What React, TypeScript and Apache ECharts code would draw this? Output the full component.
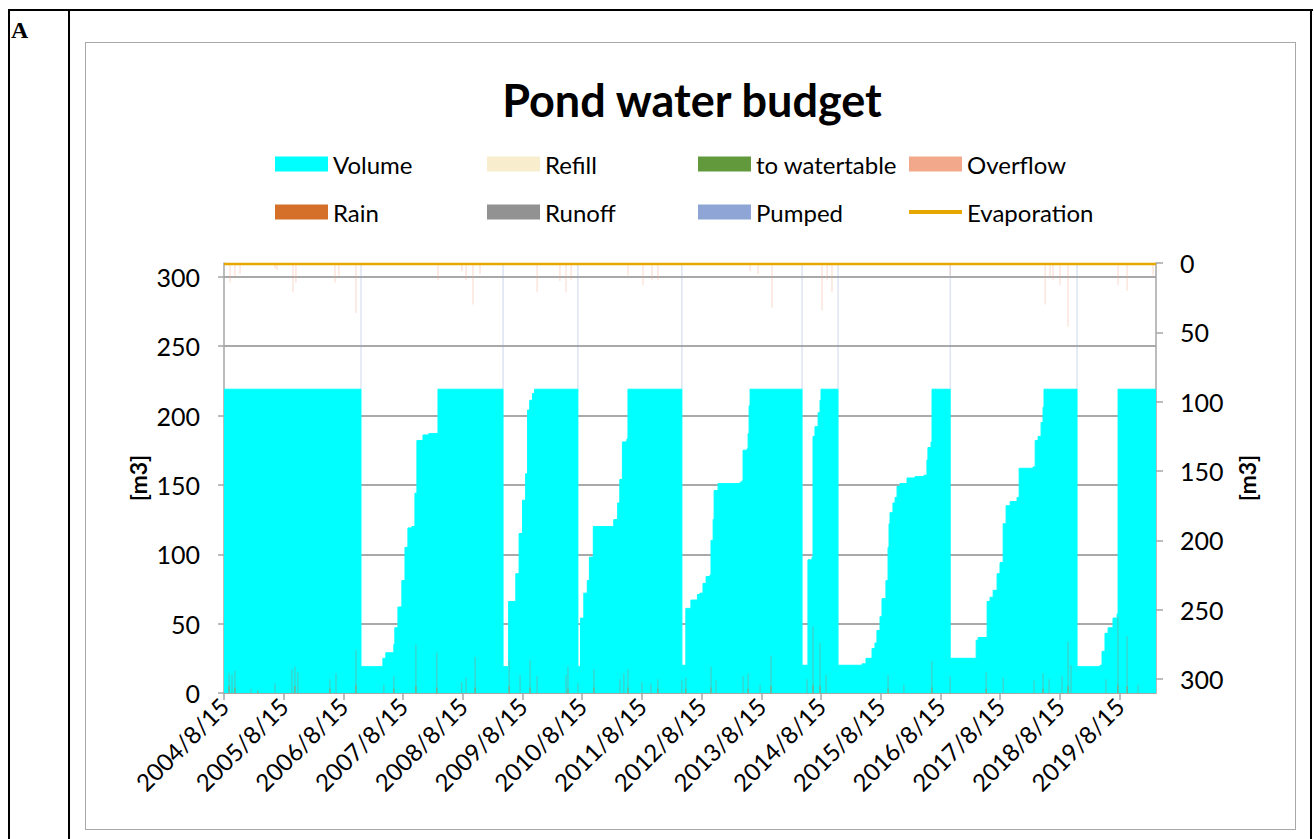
import React, { useEffect, useRef } from 'react';
import * as echarts from 'echarts';

// Pond volume [m3] (step changes)
const VOLUME: [string, number][] = [
  ['2004-08-15', 219], ['2006-12-01', 19], ['2007-04-14', 25], ['2007-05-02', 29], ['2007-06-20', 35],
  ['2007-06-26', 47], ['2007-07-15', 62], ['2007-08-08', 81], ['2007-08-27', 105], ['2007-09-14', 119],
  ['2007-10-08', 120], ['2007-10-27', 144], ['2007-11-08', 182], ['2007-12-15', 186], ['2008-01-20', 187],
  ['2008-03-16', 219], ['2009-04-18', 19], ['2009-05-22', 66], ['2009-07-05', 86], ['2009-07-25', 115],
  ['2009-08-15', 139], ['2009-09-03', 158], ['2009-09-15', 204], ['2009-09-28', 211], ['2009-10-15', 216],
  ['2009-10-28', 219], ['2010-07-20', 19], ['2010-08-05', 54], ['2010-08-25', 72], ['2010-09-15', 81],
  ['2010-09-28', 98], ['2010-10-22', 120], ['2011-02-24', 125], ['2011-03-20', 137], ['2011-04-02', 154],
  ['2011-04-18', 181], ['2011-05-15', 183], ['2011-05-22', 219], ['2012-04-16', 20], ['2012-05-10', 61],
  ['2012-06-10', 67], ['2012-07-20', 71], ['2012-08-04', 72], ['2012-08-23', 79], ['2012-09-11', 84],
  ['2012-10-05', 85], ['2012-10-11', 110], ['2012-10-24', 125], ['2012-10-30', 146], ['2012-11-23', 151],
  ['2013-04-07', 152], ['2013-04-19', 153], ['2013-04-25', 175], ['2013-05-19', 176], ['2013-05-26', 187],
  ['2013-06-01', 207], ['2013-06-07', 219], ['2014-04-21', 20], ['2014-05-27', 96], ['2014-06-21', 98],
  ['2014-06-27', 185], ['2014-07-09', 192], ['2014-07-28', 202], ['2014-08-09', 211], ['2014-08-15', 219],
  ['2014-11-27', 20], ['2015-04-23', 21], ['2015-05-17', 25], ['2015-06-23', 32], ['2015-07-11', 36],
  ['2015-07-23', 45], ['2015-08-11', 55], ['2015-08-23', 68], ['2015-09-16', 81], ['2015-09-29', 105],
  ['2015-10-05', 122], ['2015-10-11', 130], ['2015-10-29', 137], ['2015-11-11', 141], ['2015-11-23', 149],
  ['2015-12-11', 151], ['2016-01-23', 155], ['2016-03-12', 156], ['2016-05-06', 157], ['2016-05-24', 168],
  ['2016-05-30', 177], ['2016-06-18', 181], ['2016-06-24', 219], ['2016-10-13', 25], ['2017-03-21', 38],
  ['2017-04-02', 40], ['2017-05-27', 66], ['2017-06-14', 69], ['2017-07-03', 74], ['2017-07-27', 86],
  ['2017-08-14', 94], ['2017-09-02', 122], ['2017-09-20', 135], ['2017-10-15', 138], ['2017-11-26', 141],
  ['2017-12-09', 162], ['2018-03-04', 163], ['2018-03-17', 182], ['2018-04-04', 185], ['2018-04-22', 195],
  ['2018-05-04', 206], ['2018-05-10', 219], ['2018-11-28', 19], ['2019-04-18', 20], ['2019-04-30', 30],
  ['2019-05-18', 43], ['2019-06-06', 47], ['2019-07-06', 54], ['2019-07-31', 57], ['2019-08-06', 219],
  ['2020-03-25', 219],
];

// Runoff spikes [m3]
const RUNOFF: [string, number][] = [
  ['2004-09-15', 14], ['2004-10-03', 13], ['2004-10-21', 16], ['2005-01-27', 3], ['2005-06-23', 7],
  ['2005-10-05', 17], ['2005-10-23', 19], ['2005-11-10', 15], ['2006-05-25', 10], ['2006-07-01', 14],
  ['2006-10-31', 31], ['2007-04-20', 6], ['2007-06-20', 12], ['2007-11-02', 35], ['2008-03-09', 29],
  ['2008-08-08', 8], ['2008-09-04', 11], ['2008-10-29', 26], ['2009-05-25', 24], ['2009-07-31', 13],
  ['2009-09-30', 24], ['2009-11-12', 12], ['2010-05-08', 13], ['2010-05-20', 19], ['2010-07-20', 7],
  ['2010-10-26', 17], ['2011-04-03', 10], ['2011-04-27', 14], ['2011-05-22', 17], ['2011-08-16', 8],
  ['2011-10-09', 7], ['2011-11-21', 10], ['2012-04-16', 9], ['2012-05-10', 11], ['2012-10-11', 19],
  ['2012-11-11', 9], ['2013-04-25', 12], ['2013-05-26', 14], ['2013-08-07', 6], ['2013-10-13', 27],
  ['2014-05-21', 10], ['2014-06-27', 48], ['2014-08-09', 36], ['2014-09-15', 13], ['2015-09-29', 13],
  ['2016-01-04', 6], ['2016-06-23', 23], ['2016-10-13', 12], ['2017-05-21', 15], ['2017-09-02', 11],
  ['2018-03-10', 9], ['2018-05-04', 14], ['2018-06-10', 10], ['2018-08-28', 12], ['2018-10-04', 37],
  ['2018-10-22', 20], ['2019-05-24', 10], ['2019-08-05', 55], ['2019-09-30', 41], ['2019-12-06', 6],
];

// Rain [m3]
const RAIN: [string, number][] = [
  ['2004-09-15', 5], ['2004-10-21', 4], ['2005-03-10', 2], ['2005-10-23', 5], ['2006-05-25', 3],
  ['2006-10-31', 6], ['2007-06-20', 3], ['2007-11-02', 5], ['2008-03-09', 4], ['2008-10-29', 4],
  ['2009-05-25', 5], ['2009-09-30', 4], ['2010-05-20', 3], ['2010-10-26', 4], ['2011-05-22', 4],
  ['2011-11-21', 3], ['2012-05-10', 3], ['2012-10-11', 4], ['2013-05-26', 3], ['2013-10-13', 5],
  ['2014-06-27', 6], ['2014-08-09', 5], ['2015-09-29', 3], ['2016-06-23', 4], ['2017-05-21', 3],
  ['2018-05-04', 3], ['2018-10-04', 5], ['2019-08-05', 6], ['2019-09-30', 5],
];

// Overflow [m3] (secondary axis, reversed)
const OVERFLOW: [string, number][] = [
  ['2004-09-21', 14], ['2004-10-21', 10], ['2004-11-21', 8], ['2005-06-23', 4], ['2005-07-05', 5],
  ['2005-10-11', 21], ['2005-10-29', 14], ['2006-06-25', 14], ['2006-07-19', 9], ['2006-10-31', 36],
  ['2008-03-16', 12], ['2008-08-09', 6], ['2008-09-04', 12], ['2008-10-16', 30], ['2008-11-28', 8],
  ['2009-11-12', 21], ['2010-04-01', 13], ['2010-05-08', 21], ['2010-06-08', 12], ['2011-05-22', 9],
  ['2011-08-22', 16], ['2011-10-16', 12], ['2011-11-21', 12], ['2013-06-07', 6], ['2013-07-26', 8],
  ['2013-10-19', 32], ['2014-08-21', 34], ['2014-09-21', 12], ['2014-10-21', 21], ['2016-10-13', 9],
  ['2018-05-17', 30], ['2018-06-16', 10], ['2018-07-04', 12], ['2018-08-16', 16], ['2018-10-04', 46],
  ['2019-08-06', 16], ['2019-09-30', 20], ['2020-03-07', 9],
];

// Pumped [m3] (secondary axis, reversed)
const PUMPED: [string, number][] = [
  ['2006-12-01', 91], ['2009-04-18', 91], ['2010-07-20', 91], ['2012-04-16', 91],
  ['2014-04-21', 91], ['2014-11-27', 91], ['2016-10-13', 91], ['2018-11-28', 91],
];

// Evaporation [m3] (secondary axis)
const EVAPORATION: [string, number][] = [['2004-08-15', 0.8], ['2020-03-25', 0.8]];
const REFILL: [string, number][] = [];
const TO_WATERTABLE: [string, number][] = [];

const TICK_DATES = [
  '2004-08-15', '2005-08-15', '2006-08-15', '2007-08-15', '2008-08-15', '2009-08-15', '2010-08-15', '2011-08-15',
  '2012-08-15', '2013-08-15', '2014-08-15', '2015-08-15', '2016-08-15', '2017-08-15', '2018-08-15', '2019-08-15',
];
const Y_TICKS = [0, 50, 100, 150, 200, 250, 300];
const X_START = '2004-08-15';
const X_END = '2020-03-25';

const FONT = 'Lato';

const COLORS = {
  Volume: '#00FFFF',
  Refill: '#F8EDCC',
  'to watertable': '#61993C',
  Overflow: '#F2A98B',
  Rain: '#D5702B',
  Runoff: '#929292',
  Pumped: '#8FA5D6',
  Evaporation: '#E6A800',
};

const parse = (s: string) => {
  const [y, m, d] = s.split('-').map(Number);
  return Date.UTC(y, m - 1, d);
};
const fmt = (v: number) => {
  const d = new Date(v);
  return `${d.getUTCFullYear()}/${d.getUTCMonth() + 1}/${d.getUTCDate()}`;
};

export default function App() {
  const ref = useRef<HTMLDivElement>(null);

  useEffect(() => {
    const chart = echarts.init(ref.current!, null, { renderer: 'svg' });
    const tickTimes = TICK_DATES.map(parse);
    const toData = (arr: [string, number][]) => arr.map(([d, v]) => [parse(d), v]);

    const legendItem = (name: keyof typeof COLORS, left: number, top: number, h = 15) => ({
      show: true,
      data: [{ name, icon: 'rect', itemStyle: { color: COLORS[name], opacity: 1 } }],
      left,
      top,
      padding: 0,
      itemGap: 0,
      itemWidth: 53,
      itemHeight: h,
      selectedMode: false,
      textStyle: { fontFamily: FONT, fontSize: 24, color: '#000' },
    });

    const axisTextStyle = { fontFamily: FONT, fontSize: 25, color: '#000' };

    chart.setOption({
      animation: false,
      title: {
        text: 'Pond water budget',
        left: 687,
        top: 72,
        textAlign: 'center',
        textStyle: { fontFamily: FONT, fontSize: 45, fontWeight: 'bold', color: '#000' },
      },
      legend: [
        legendItem('Volume', 275, 152),
        legendItem('Refill', 487, 152),
        legendItem('to watertable', 698, 152),
        legendItem('Overflow', 909, 152),
        legendItem('Rain', 275, 200),
        legendItem('Runoff', 487, 200),
        legendItem('Pumped', 698, 200),
        legendItem('Evaporation', 909, 200, 4),
      ],
      grid: { left: 224, right: 158, top: 263, bottom: 146 },
      xAxis: {
        type: 'value',
        min: parse(X_START),
        max: parse(X_END),
        axisLine: { show: true, onZero: false, lineStyle: { color: '#A6A6A6', width: 1.5 } },
        axisTick: { show: true, customValues: tickTimes, length: 7, lineStyle: { color: '#A6A6A6', width: 1.5 } },
        axisLabel: {
          customValues: tickTimes,
          rotate: 45,
          margin: 9,
          formatter: (v: number) => fmt(v),
          ...axisTextStyle,
          fontSize: 24,
        },
        splitLine: { show: false },
      },
      yAxis: [
        {
          type: 'value',
          min: 0,
          max: 310,
          interval: 50,
          position: 'left',
          axisLine: { show: true, lineStyle: { color: '#A6A6A6', width: 1.5 } },
          axisTick: { show: true, customValues: Y_TICKS, length: 6, lineStyle: { color: '#A6A6A6', width: 1.5 } },
          axisLabel: { customValues: Y_TICKS, margin: 24, ...axisTextStyle },
          splitLine: { show: true, lineStyle: { color: '#8C8C8C', width: 1.5 } },
        },
        {
          type: 'value',
          min: 0,
          max: 310,
          interval: 50,
          inverse: true,
          position: 'right',
          axisLine: { show: true, lineStyle: { color: '#A6A6A6', width: 1.5 } },
          axisTick: { show: true, customValues: Y_TICKS, length: 7, lineStyle: { color: '#A6A6A6', width: 1.5 } },
          axisLabel: { customValues: Y_TICKS, margin: 24, ...axisTextStyle },
          splitLine: { show: false },
        },
      ],
      graphic: [
        {
          type: 'text',
          x: 138,
          y: 478,
          rotation: Math.PI / 2,
          style: { text: '[m3]', font: `bold 23px ${FONT}`, fill: '#000', align: 'center', verticalAlign: 'middle' },
        },
        {
          type: 'text',
          x: 1247,
          y: 478,
          rotation: Math.PI / 2,
          style: { text: '[m3]', font: `bold 23px ${FONT}`, fill: '#000', align: 'center', verticalAlign: 'middle' },
        },
      ],
      series: [
        {
          name: 'Pumped',
          type: 'bar',
          yAxisIndex: 1,
          barWidth: 1,
          barGap: '-100%',
          color: COLORS.Pumped,
          itemStyle: { color: 'rgba(143,165,214,0.45)' },
          data: toData(PUMPED),
          z: 1,
        },
        {
          name: 'Overflow',
          type: 'bar',
          yAxisIndex: 1,
          barWidth: 1,
          barGap: '-100%',
          color: COLORS.Overflow,
          itemStyle: { color: 'rgba(242,169,139,0.45)' },
          data: toData(OVERFLOW),
          z: 1,
        },
        {
          name: 'Volume',
          type: 'line',
          step: 'end',
          symbol: 'none',
          color: COLORS.Volume,
          lineStyle: { color: COLORS.Volume, width: 1 },
          areaStyle: { color: COLORS.Volume, opacity: 1 },
          data: toData(VOLUME),
          z: 2,
        },
        {
          name: 'Refill',
          type: 'bar',
          barWidth: 1,
          barGap: '-100%',
          color: COLORS.Refill,
          itemStyle: { color: COLORS.Refill },
          data: toData(REFILL),
          z: 3,
        },
        {
          name: 'to watertable',
          type: 'bar',
          barWidth: 1,
          barGap: '-100%',
          color: COLORS['to watertable'],
          itemStyle: { color: COLORS['to watertable'] },
          data: toData(TO_WATERTABLE),
          z: 3,
        },
        {
          name: 'Rain',
          type: 'bar',
          barWidth: 1,
          barGap: '-100%',
          color: COLORS.Rain,
          itemStyle: { color: 'rgba(213,112,43,0.6)' },
          data: toData(RAIN),
          z: 4,
        },
        {
          name: 'Runoff',
          type: 'bar',
          barWidth: 1,
          barGap: '-100%',
          color: COLORS.Runoff,
          itemStyle: { color: 'rgba(165,135,115,0.5)' },
          data: toData(RUNOFF),
          z: 3,
        },
        {
          name: 'Evaporation',
          type: 'line',
          yAxisIndex: 1,
          symbol: 'none',
          color: COLORS.Evaporation,
          lineStyle: { color: COLORS.Evaporation, width: 2.5 },
          data: toData(EVAPORATION),
          z: 5,
        },
      ],
    });
    return () => chart.dispose();
  }, []);

  const line = (left: number, top: number, width: number, height: number): React.CSSProperties => ({
    position: 'absolute', left, top, width, height, background: '#000',
  });

  return (
    <div style={{ position: 'fixed', left: 0, top: 0, width: 1314, height: 839, overflow: 'hidden', background: '#fff' }}>
      <div style={line(8, 9, 1305, 2)} />
      <div style={line(8, 9, 2, 830)} />
      <div style={line(68, 9, 2, 830)} />
      <div style={line(1310, 9, 2, 830)} />
      <div style={{ position: 'absolute', left: 11, top: 18, fontFamily: '"Liberation Serif", serif', fontWeight: 'bold', fontSize: 24, lineHeight: '24px' }}>A</div>
      <div style={{ position: 'absolute', left: 85, top: 42, width: 1211, height: 788, border: '1.5px solid #A8A8A8', boxSizing: 'border-box' }} />
      <div ref={ref} style={{ position: 'absolute', left: 0, top: 0, width: 1314, height: 839 }} />
    </div>
  );
}
